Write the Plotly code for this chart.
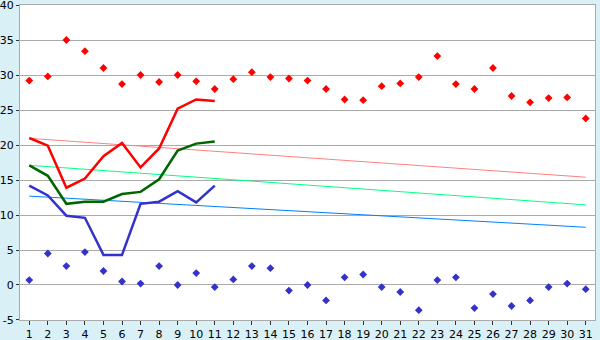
import plotly.graph_objects as go

days = list(range(1, 32))
day_labels = [str(d) for d in days]

max_temp = [29.2, 29.8, 35.0, 33.4, 31.0, 28.7, 30.0, 29.0, 30.0, 29.1, 28.0,
            29.4, 30.4, 29.7, 29.5, 29.2, 28.0, 26.5, 26.4, 28.4, 28.8, 29.7,
            32.7, 28.7, 28.0, 31.0, 27.0, 26.1, 26.7, 26.8, 23.8]
min_temp = [0.7, 4.5, 2.7, 4.7, 2.0, 0.5, 0.2, 2.7, 0.0, 1.7, -0.3,
            0.8, 2.7, 2.4, -0.8, 0.0, -2.2, 1.1, 1.5, -0.3, -1.0, -3.6,
            0.7, 1.1, -3.3, -1.3, -3.0, -2.2, -0.3, 0.2, -0.6]

cur_days = list(range(1, 12))
cur_max = [21.0, 19.9, 13.9, 15.2, 18.4, 20.3, 16.8, 19.5, 25.2, 26.5, 26.3]
cur_mean = [17.1, 15.6, 11.6, 11.9, 11.9, 13.0, 13.3, 15.1, 19.2, 20.2, 20.5]
cur_min = [14.2, 12.8, 9.9, 9.6, 4.3, 4.3, 11.6, 11.9, 13.4, 11.8, 14.2]

trend_days = [1, 31]
trend_max = [20.95, 15.4]
trend_mean = [17.1, 11.45]
trend_min = [12.7, 8.25]

y_ticks = [-5, 0, 5, 10, 15, 20, 25, 30, 35, 40]

fig = go.Figure()

fig.add_trace(go.Scatter(x=trend_days, y=trend_max, mode="lines",
                         line=dict(color="#FF8080", width=1)))
fig.add_trace(go.Scatter(x=trend_days, y=trend_mean, mode="lines",
                         line=dict(color="#00FF80", width=1)))
fig.add_trace(go.Scatter(x=trend_days, y=trend_min, mode="lines",
                         line=dict(color="#0080FF", width=1)))

fig.add_trace(go.Scatter(x=cur_days, y=cur_max, mode="lines",
                         line=dict(color="#FF0000", width=2.5)))
fig.add_trace(go.Scatter(x=cur_days, y=cur_mean, mode="lines",
                         line=dict(color="#006600", width=2.5)))
fig.add_trace(go.Scatter(x=cur_days, y=cur_min, mode="lines",
                         line=dict(color="#3333CC", width=2.5)))

fig.add_trace(go.Scatter(x=days, y=max_temp, mode="markers",
                         marker=dict(symbol="diamond", size=6, color="#FF0000")))
fig.add_trace(go.Scatter(x=days, y=min_temp, mode="markers",
                         marker=dict(symbol="diamond", size=6, color="#3333CC")))

fig.update_layout(
    width=600, height=340,
    margin=dict(l=20, r=5, t=5, b=20),
    paper_bgcolor="#D9F0F7",
    plot_bgcolor="#FFFFFF",
    showlegend=False,
    font=dict(family="DejaVu Sans", size=11, color="#000000"),
)
fig.update_xaxes(
    range=[0.5, 31.5], tickvals=days, ticktext=day_labels,
    showgrid=False, ticks="outside", ticklen=4, tickcolor="#333333",
    showline=True, linecolor="#AAAAAA", linewidth=1, mirror=True,
    zeroline=False, automargin=False, ticklabeloverflow="allow",
)
fig.update_yaxes(
    range=[-5.001, 40.001], tickvals=y_ticks, ticktext=[str(v) for v in y_ticks],
    showgrid=True, gridcolor="#AAAAAA", gridwidth=1,
    ticks="outside", ticklen=3, tickcolor="#333333",
    showline=True, linecolor="#AAAAAA", linewidth=1, mirror=True,
    zeroline=True, zerolinecolor="#AAAAAA", zerolinewidth=1,
    automargin=False, ticklabeloverflow="allow",
)

fig.write_html("out.html")
